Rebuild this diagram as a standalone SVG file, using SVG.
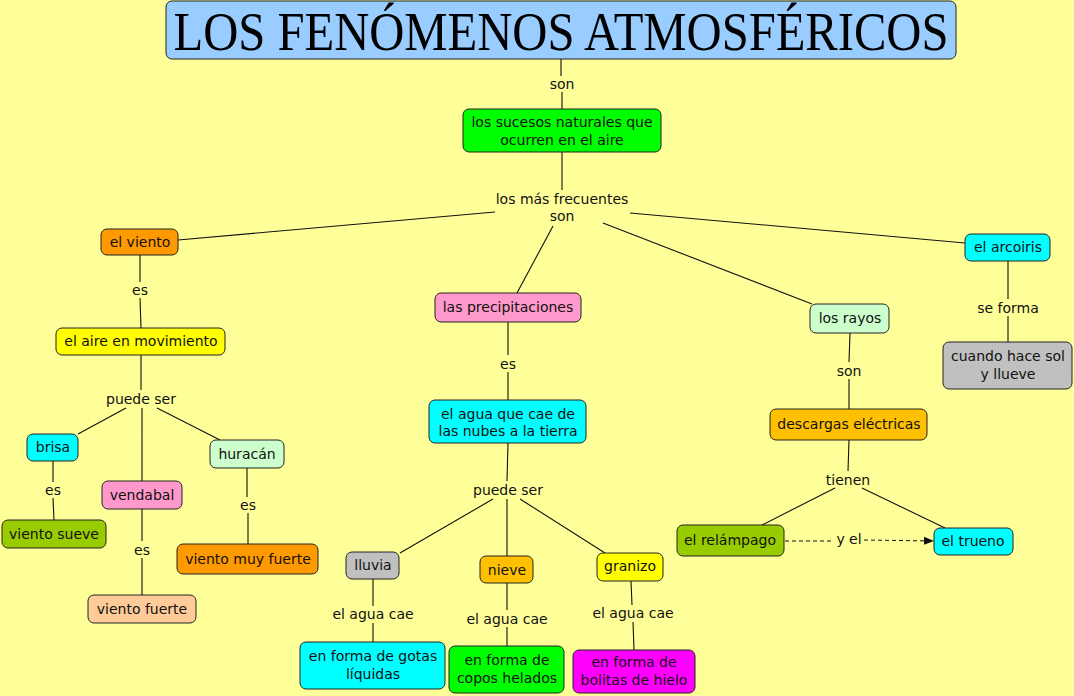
<svg xmlns="http://www.w3.org/2000/svg" width="1074" height="696" viewBox="0 0 1074 696">
<defs>
<style>
.n{stroke:#222;stroke-width:1;}
.t{font-family:"DejaVu Sans",Verdana,sans-serif;font-size:14px;fill:#111;text-anchor:middle;}
.c{stroke:#111;stroke-width:1.1;fill:none;}
.d{stroke:#111;stroke-width:1;fill:none;stroke-dasharray:4,3;}
</style>
<marker id="ah" markerWidth="10" markerHeight="10" refX="9" refY="5" orient="auto" markerUnits="userSpaceOnUse">
<path d="M0,1 L10,5 L0,9 Z" fill="#111"/>
</marker>
</defs>
<rect width="1074" height="696" fill="#FFFF99"/>
<g id="connectors">
<path class="c" d="M561,59 V76 M562,92 V109"/>
<path class="c" d="M562,152 V190"/>
<path class="c" d="M495,212 L178,240"/>
<path class="c" d="M553,226 L517,293"/>
<path class="c" d="M603,223 L812,304"/>
<path class="c" d="M630,213 L965,243"/>
<path class="c" d="M140,255 V282 M140,298 L141,328"/>
<path class="c" d="M141,355 V390 M126,408 L78,434 M142,408 V481 M157,408 L220,440"/>
<path class="c" d="M53,461 V482 M53,498 L54,520"/>
<path class="c" d="M142,509 V541 M142,558 V595"/>
<path class="c" d="M247,468 V497 M248,513 V544"/>
<path class="c" d="M508,322 V355 M508,372 V400"/>
<path class="c" d="M508,443 L507,481 M493,499 L400,553 M507,499 V557 M520,499 L605,553"/>
<path class="c" d="M373,579 V606 M373,623 V642"/>
<path class="c" d="M507,583 V610 M507,627 V646"/>
<path class="c" d="M631,581 L632,605 M633,622 L634,650"/>
<path class="c" d="M850,333 L849,362 M849,379 V409"/>
<path class="c" d="M849,440 L848,471 M835,488 L762,525 M862,488 L945,528"/>
<path class="d" d="M785,541 L834,541"/>
<path class="d" d="M864,540 L933,541" marker-end="url(#ah)"/>
<path class="c" d="M1008,261 V299 M1008,316 V342"/>
</g>
<g id="labels">
<text class="t" x="562" y="89">son</text>
<text class="t" x="562" y="204">los más frecuentes</text>
<text class="t" x="562" y="221">son</text>
<text class="t" x="140" y="295">es</text>
<text class="t" x="141" y="404">puede ser</text>
<text class="t" x="53" y="495">es</text>
<text class="t" x="142" y="555">es</text>
<text class="t" x="248" y="510">es</text>
<text class="t" x="508" y="369">es</text>
<text class="t" x="508" y="495">puede ser</text>
<text class="t" x="373" y="619">el agua cae</text>
<text class="t" x="507" y="624">el agua cae</text>
<text class="t" x="633" y="618">el agua cae</text>
<text class="t" x="849" y="376">son</text>
<text class="t" x="848" y="485">tienen</text>
<text class="t" x="849" y="544">y el</text>
<text class="t" x="1008" y="313">se forma</text>
</g>
<g id="title">
<rect class="n" x="166" y="1" width="790" height="58" rx="6" fill="#99CCFF"/>
<text x="561" y="50" font-family="'Liberation Serif','Times New Roman',serif" font-size="54" text-anchor="middle" fill="#000" textLength="775" lengthAdjust="spacingAndGlyphs">LOS FENÓMENOS ATMOSFÉRICOS</text>
</g>
<g id="sucesos">
<rect class="n" x="463" y="109" width="198" height="43" rx="6" fill="#00FF00"/>
<text class="t" x="562" y="127">los sucesos naturales que</text>
<text class="t" x="562" y="145">ocurren en el aire</text>
</g>
<g id="viento">
<rect class="n" x="101" y="229" width="77" height="26" rx="6" fill="#FF9900"/>
<text class="t" x="140" y="247">el viento</text>
</g>
<g id="aire">
<rect class="n" x="56" y="328" width="169" height="27" rx="6" fill="#FFFF00"/>
<text class="t" x="141" y="346">el aire en movimiento</text>
</g>
<g id="brisa">
<rect class="n" x="27" y="434" width="51" height="27" rx="6" fill="#00FFFF"/>
<text class="t" x="53" y="452">brisa</text>
</g>
<g id="sueve">
<rect class="n" x="2" y="520" width="104" height="28" rx="6" fill="#99CC00"/>
<text class="t" x="54" y="539">viento sueve</text>
</g>
<g id="vendabal">
<rect class="n" x="102" y="481" width="80" height="28" rx="6" fill="#FF99CC"/>
<text class="t" x="142" y="500">vendabal</text>
</g>
<g id="fuerte">
<rect class="n" x="88" y="595" width="108" height="28" rx="6" fill="#FFCC99"/>
<text class="t" x="142" y="614">viento fuerte</text>
</g>
<g id="huracan">
<rect class="n" x="210" y="440" width="74" height="28" rx="6" fill="#CCFFCC"/>
<text class="t" x="247" y="459">huracán</text>
</g>
<g id="muyfuerte">
<rect class="n" x="177" y="544" width="141" height="30" rx="6" fill="#FF9900"/>
<text class="t" x="248" y="564">viento muy fuerte</text>
</g>
<g id="precipitaciones">
<rect class="n" x="435" y="293" width="146" height="29" rx="6" fill="#FF99CC"/>
<text class="t" x="508" y="312">las precipitaciones</text>
</g>
<g id="agua">
<rect class="n" x="429" y="400" width="157" height="43" rx="6" fill="#00FFFF"/>
<text class="t" x="508" y="419">el agua que cae de</text>
<text class="t" x="508" y="436">las nubes a la tierra</text>
</g>
<g id="lluvia">
<rect class="n" x="346" y="552" width="53" height="27" rx="6" fill="#C0C0C0"/>
<text class="t" x="373" y="570">lluvia</text>
</g>
<g id="gotas">
<rect class="n" x="300" y="642" width="145" height="47" rx="6" fill="#00FFFF"/>
<text class="t" x="373" y="661">en forma de gotas</text>
<text class="t" x="373" y="679">líquidas</text>
</g>
<g id="nieve">
<rect class="n" x="480" y="556" width="53" height="27" rx="6" fill="#FFC000"/>
<text class="t" x="507" y="575">nieve</text>
</g>
<g id="copos">
<rect class="n" x="449" y="646" width="115" height="47" rx="6" fill="#00FF00"/>
<text class="t" x="507" y="665">en forma de</text>
<text class="t" x="507" y="683">copos helados</text>
</g>
<g id="granizo">
<rect class="n" x="597" y="553" width="66" height="28" rx="6" fill="#FFFF00"/>
<text class="t" x="630" y="571">granizo</text>
</g>
<g id="bolitas">
<rect class="n" x="573" y="650" width="122" height="43" rx="6" fill="#FF00FF"/>
<text class="t" x="634" y="667">en forma de</text>
<text class="t" x="634" y="685">bolitas de hielo</text>
</g>
<g id="rayos">
<rect class="n" x="810" y="304" width="79" height="29" rx="6" fill="#CCFFCC"/>
<text class="t" x="850" y="323">los rayos</text>
</g>
<g id="descargas">
<rect class="n" x="770" y="409" width="157" height="31" rx="6" fill="#FFC000"/>
<text class="t" x="849" y="429">descargas eléctricas</text>
</g>
<g id="relampago">
<rect class="n" x="677" y="525" width="107" height="31" rx="6" fill="#99CC00"/>
<text class="t" x="730" y="545">el relámpago</text>
</g>
<g id="trueno">
<rect class="n" x="934" y="528" width="79" height="27" rx="6" fill="#00FFFF"/>
<text class="t" x="973" y="546">el trueno</text>
</g>
<g id="arcoiris">
<rect class="n" x="965" y="234" width="85" height="27" rx="6" fill="#00FFFF"/>
<text class="t" x="1008" y="252">el arcoiris</text>
</g>
<g id="sol">
<rect class="n" x="943" y="342" width="129" height="47" rx="6" fill="#C0C0C0"/>
<text class="t" x="1008" y="361">cuando hace sol</text>
<text class="t" x="1008" y="379">y llueve</text>
</g>
</svg>
